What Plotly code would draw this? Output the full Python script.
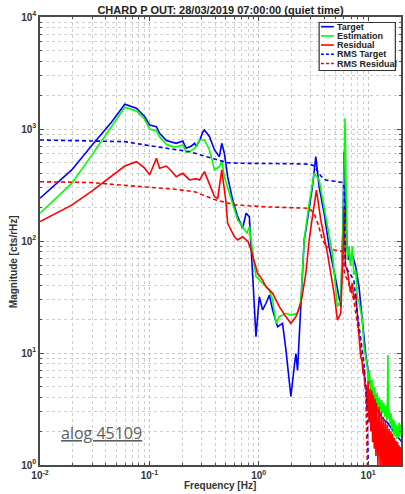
import plotly.graph_objects as go

# ---------------- data ----------------
target_f = [0.01, 0.0195, 0.03, 0.045, 0.0596, 0.076, 0.09, 0.1007, 0.116, 0.124, 0.143, 0.16, 0.176,
            0.202, 0.217, 0.24, 0.259, 0.268, 0.29, 0.308, 0.319, 0.355, 0.394, 0.437, 0.459, 0.485,
            0.52, 0.578, 0.642, 0.713, 0.766, 0.821, 0.851, 0.88, 0.944, 1.012, 1.086, 1.166, 1.25,
            1.34, 1.487, 1.652, 1.774, 1.902, 1.969, 2.111, 2.188, 2.264, 2.431, 2.604, 2.699, 2.9,
            3.099, 3.326, 3.567, 3.963, 4.402, 5.067, 5.625, 5.909, 6.03, 6.155, 6.459, 6.691, 7.2,
            7.705, 8.261, 8.858, 9.502, 10.2, 11.0, 12.0, 13.5, 15.0, 17.0, 20.4]
target_m = [241, 431, 720, 1150, 1663, 1531, 1300, 1086, 1050, 916, 790, 760, 745,
            780, 672, 700, 745, 700, 800, 940, 980, 854, 650, 566, 745, 607,
            375, 232, 165, 130, 177, 165, 95, 50, 14.0, 31.8, 24.2, 27.8, 33.0,
            24.2, 17.2, 18.4, 10.6, 5.7, 4.1, 7.5, 9.9, 7.0, 27.8, 102, 125, 200,
            305, 566, 305, 177, 88.9, 44.9, 25.9, 154, 627, 232, 83, 67.7, 75,
            59, 39, 19.7, 9.9, 6.0, 4.0, 3.2, 2.6, 2.4, 2.0, 1.6]

estim_f = [0.01, 0.0195, 0.03, 0.045, 0.0596, 0.076, 0.09, 0.1007, 0.116, 0.124, 0.143, 0.16, 0.176,
           0.202, 0.217, 0.24, 0.259, 0.288, 0.319, 0.355, 0.394, 0.437, 0.459, 0.485, 0.55, 0.642,
           0.713, 0.78, 0.821, 0.88, 0.944, 1.012, 1.086, 1.25, 1.34, 1.438, 1.541, 1.774, 1.969,
           2.264, 2.431, 2.604, 2.892, 3.211, 3.567, 4.106, 4.72, 5.241, 5.625, 5.909, 6.155, 6.3,
           6.459, 6.7, 6.9, 7.177, 7.4, 7.705, 7.977, 8.3, 8.6, 8.858, 9.174, 9.5, 9.84,
           10.0, 10.3, 10.6, 10.9, 11.2, 11.5, 11.8, 12.1, 12.4, 12.7, 13.0, 13.3, 13.6, 13.9,
           14.2, 14.5, 14.8, 15.0, 15.18, 15.35, 15.6, 15.9, 16.2, 16.5, 16.8, 17.1, 17.4, 17.7,
           18.0, 18.3, 18.6, 18.9, 19.2, 19.5, 19.8, 20.1, 20.4]
estim_m = [177, 327, 590, 1050, 1563, 1450, 1230, 1000, 960, 850, 730, 700, 690,
           720, 620, 640, 670, 798, 798, 650, 431, 461, 520, 375, 249, 154,
           134, 117, 134, 77.6, 48, 45, 41.9, 36.5, 29.7, 18.4, 21.1, 22.6, 21.8,
           22.6, 29.7, 102, 217, 402, 351, 165, 77.6, 25.9, 29.7, 150, 1247, 300,
           67.7, 90, 60, 88.9, 50, 55.1, 31.8, 28, 24, 19.7, 11.4, 9.0, 7.5,
           5.5, 7.0, 4.5, 5.8, 3.8, 5.0, 3.4, 4.4, 3.2, 4.0, 3.0, 3.8, 2.9, 3.6,
           2.7, 3.4, 2.5, 3.0, 9.6, 2.6, 3.1, 2.3, 2.9, 2.1, 2.6, 1.9, 2.5, 1.8,
           2.3, 1.7, 2.2, 1.75, 2.4, 1.8, 2.3, 1.9, 2.1]

resid_f = [0.01, 0.0195, 0.03, 0.045, 0.0596, 0.076, 0.09, 0.1007, 0.116, 0.124, 0.143, 0.16, 0.176,
           0.202, 0.233, 0.268, 0.288, 0.319, 0.355, 0.394, 0.422, 0.459, 0.5, 0.52, 0.6, 0.642,
           0.713, 0.8, 0.851, 0.944, 0.977, 1.08, 1.166, 1.34, 1.541, 1.774, 1.969, 2.188, 2.431,
           2.699, 2.892, 3.099, 3.372, 3.695, 4.25, 4.89, 5.241, 5.625, 5.909, 6.03, 6.2, 6.459,
           6.9, 7.177, 7.4, 7.705, 8.0, 8.261, 8.556, 8.8, 9.0, 9.2, 9.4,
           9.6, 9.8, 10.0, 10.2, 10.4, 10.6, 10.8, 11.0, 11.2, 11.4, 11.6, 11.8, 12.0, 12.3,
           12.6, 12.9, 13.2, 13.5, 13.8, 14.1, 14.4, 14.7, 15.0, 15.3, 15.6, 15.9, 16.2, 16.5,
           16.8, 17.1, 17.4, 17.7, 18.0, 18.3, 18.6, 18.9, 19.2, 19.5, 19.8, 20.1, 20.4]
resid_m = [149, 209, 280, 380, 467, 511, 450, 390, 548, 446, 467, 420, 375,
           402, 351, 360, 351, 416, 327, 249, 241, 431, 232, 144, 109, 102,
           109, 98.6, 83.2, 60, 51.5, 45, 39.1, 34.1, 25.9, 21.1, 18.4, 21.1, 27.8,
           51.5, 102, 165, 285, 154, 77.6, 34.1, 19.7, 22.6, 77.6, 200, 60, 55.1,
           35, 42, 30, 34.1, 20, 14, 9.3, 8.5, 6.5, 7.2, 5.0,
           5.2, 3.0, 5.6, 2.4, 4.8, 2.0, 4.6, 1.6, 4.2, 1.4, 3.9, 1.2, 3.6, 1.0,
           3.3, 0.85, 3.0, 0.8, 2.7, 0.75, 2.5, 0.7, 2.3, 0.7, 2.1, 0.7, 2.0, 0.7,
           1.9, 0.7, 1.75, 0.7, 1.65, 0.7, 1.6, 0.7, 1.5, 0.7, 1.45, 0.7, 1.4]

rms_target_f = [0.01, 0.0286, 0.0596, 0.116, 0.233, 0.394, 0.52, 0.7, 1.0, 2.0, 2.9, 3.2, 3.4,
                3.7, 4.1, 5.0, 5.9, 6.05, 6.2, 6.5, 7.4, 8.0, 9.17, 9.84, 10.05, 10.15]
rms_target_m = [798, 787, 771, 695, 627, 540, 500, 494, 494, 490, 485, 470, 431,
                380, 351, 340, 332, 300, 60, 55, 45, 22, 8.1, 2.9, 1.04, 0.5]

rms_resid_f = [0.01, 0.0286, 0.076, 0.17, 0.259, 0.394, 0.6, 1.13, 2.9, 3.2, 3.5, 3.8, 4.1,
               4.9, 5.6, 5.9, 6.1, 6.5, 7.4, 8.5, 9.5, 9.84, 10.0]
rms_resid_m = [338, 333, 308, 290, 275, 235, 210, 202, 196, 177, 140, 105, 90,
               83, 81.5, 80, 50, 45, 30, 12, 4.7, 1.04, 0.5]

x_tickvals = [0.01, 0.1, 1, 10]
x_ticktext = ["10<sup>-2</sup>", "10<sup>-1</sup>", "10<sup>0</sup>", "10<sup>1</sup>"]
y_tickvals = [1, 10, 100, 1000, 10000]
y_ticktext = ["10<sup>0</sup>", "10<sup>1</sup>", "10<sup>2</sup>", "10<sup>3</sup>", "10<sup>4</sup>"]

legend_names = ["Target", "Estimation", "Residual", "RMS Target", "RMS Residual"]
legend_colors = ["#0000ff", "#00ff00", "#ff0000", "#0000ff", "#ff0000"]
legend_dash = ["solid", "solid", "solid", "dash", "dash"]

title_text = "CHARD P OUT: 28/03/2019 07:00:00 (quiet time)"
note_text = "alog 45109"

# ---------------- figure ----------------
W, H = 405, 494
ML, MR, MT, MB = 40, 2, 17, 29
PW, PH = W - ML - MR, H - MT - MB


def px_to_paper(px, py):
    return (px - ML) / PW, (H - MB - py) / PH


fig = go.Figure()
DASH = "4px,3px"
series = [
    (target_f, target_m, "#0000ff", "solid", "Target"),
    (estim_f, estim_m, "#00ff00", "solid", "Estimation"),
    (resid_f, resid_m, "#ff0000", "solid", "Residual"),
    (rms_target_f, rms_target_m, "#0000ff", DASH, "RMS Target"),
    (rms_resid_f, rms_resid_m, "#ff0000", DASH, "RMS Residual"),
]
for fx, my, col, dash, nm in series:
    fig.add_trace(go.Scatter(x=fx, y=my, mode="lines", name=nm, showlegend=False,
                             line=dict(color=col, width=1.6, dash=dash)))

minor_x = [m * 10 ** e for e in range(-2, 2) for m in range(2, 10)]
minor_y = [m * 10 ** e for e in range(0, 4) for m in range(2, 10)]

FONT = "Liberation Sans"
axis_common = dict(
    type="log", showline=True, linecolor="#4a4a4a", linewidth=1.6, mirror="ticks",
    ticks="inside", ticklen=4, tickcolor="#4a4a4a", tickwidth=1,
    showgrid=True, gridcolor="#c4c4c4", griddash="dot", gridwidth=1,
    zeroline=False, tickmode="array",
    tickfont=dict(family=FONT, size=10, color="#333333"),
)
fig.update_xaxes(**axis_common, range=[-2, 1.30103], tickvals=x_tickvals,
                 ticktext=["<b>" + t + "</b>" for t in x_ticktext],
                 minor=dict(tickvals=minor_x, ticks="inside", ticklen=2, tickcolor="#4a4a4a",
                            showgrid=True, gridcolor="#cfcfcf", griddash="dot", gridwidth=1))
fig.update_yaxes(**axis_common, range=[0, 4], tickvals=y_tickvals,
                 ticktext=["<b>" + t + "</b>" for t in y_ticktext],
                 minor=dict(tickvals=minor_y, ticks="inside", ticklen=2, tickcolor="#4a4a4a",
                            showgrid=True, gridcolor="#cfcfcf", griddash="dot", gridwidth=1))

annotations = []
shapes = []

# axis titles
ax_, ay_ = px_to_paper(221, 485)
annotations.append(dict(text="<b>Frequency [Hz]</b>", x=ax_, y=ay_, xref="paper", yref="paper",
                        showarrow=False, xanchor="center", yanchor="middle",
                        font=dict(family=FONT, size=10, color="#333333")))
bx_, by_ = px_to_paper(13, 262)
annotations.append(dict(text="<b>Magnitude [cts/rHz]</b>", x=bx_, y=by_, xref="paper", yref="paper",
                        showarrow=False, textangle=-90, xanchor="center", yanchor="middle",
                        font=dict(family=FONT, size=10, color="#333333")))

# note
nx_, ny_ = px_to_paper(59, 433)
annotations.append(dict(text="<u>" + note_text + "</u>", x=nx_, y=ny_, xref="paper", yref="paper",
                        showarrow=False, xanchor="left", yanchor="middle",
                        font=dict(family="Open Sans", size=16, color="#5e5e5e")))

# legend box
lx0, ly0 = px_to_paper(320.7, 70.5)
lx1, ly1 = px_to_paper(397.3, 22.5)
shapes.append(dict(type="rect", xref="paper", yref="paper", x0=lx0, x1=lx1, y0=ly0, y1=ly1,
                   fillcolor="white", line=dict(color="#333333", width=1.2), layer="above"))
row_y = [26.7, 35.9, 45.0, 54.2, 63.5]
for nm, col, dsh, ry in zip(legend_names, legend_colors, legend_dash, row_y):
    sx0, sy = px_to_paper(322.5, ry)
    sx1, _ = px_to_paper(335.5, ry)
    shapes.append(dict(type="line", xref="paper", yref="paper", x0=sx0, x1=sx1, y0=sy, y1=sy,
                       line=dict(color=col, width=1.6, dash="3px,2px" if dsh == "dash" else "solid"),
                       layer="above"))
    tx, _ = px_to_paper(336.5, ry)
    annotations.append(dict(text="<b>" + nm + "</b>", x=tx, y=sy, xref="paper", yref="paper",
                            showarrow=False, xanchor="left", yanchor="middle",
                            font=dict(family=FONT, size=9, color="#222222")))

fig.update_layout(
    width=W, height=H,
    margin=dict(l=ML, r=MR, t=MT, b=MB),
    paper_bgcolor="white", plot_bgcolor="white",
    title=dict(text="<b>" + title_text + "</b>", x=0.5, xref="paper", y=1 - 10 / H, yref="container",
               xanchor="center", yanchor="middle",
               font=dict(family=FONT, size=11, color="#222222")),
    annotations=annotations, shapes=shapes, showlegend=False,
)

fig.write_html("out.html")
